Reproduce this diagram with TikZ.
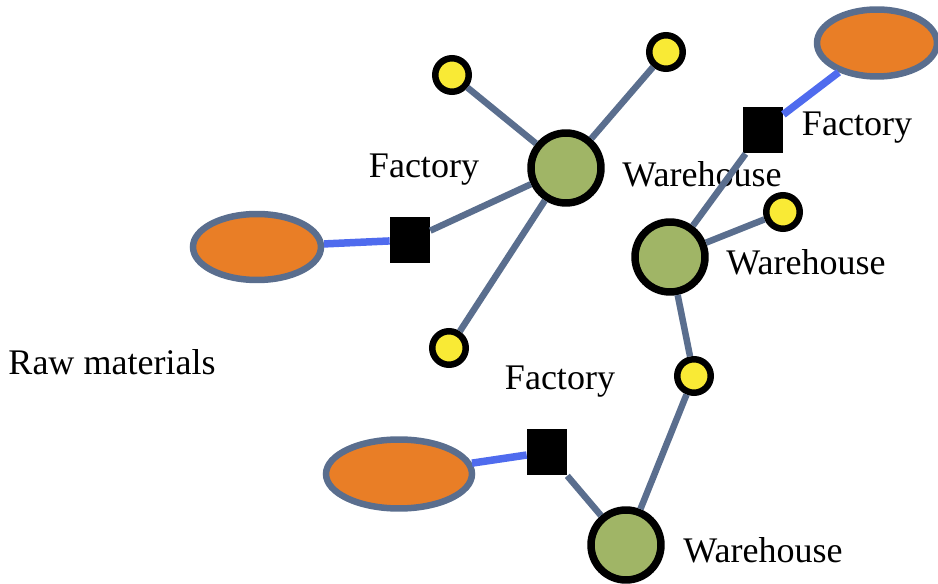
\documentclass[tikz,border=0pt]{standalone}
\usepackage{fontspec}
\setmainfont{Liberation Serif}
\usetikzlibrary{shapes.geometric}
\definecolor{rawfill}{HTML}{E97E26}
\definecolor{linkgray}{HTML}{5A6E8E}
\definecolor{supplyblue}{HTML}{4F6BEE}
\definecolor{whgreen}{HTML}{A0B566}
\definecolor{custyellow}{HTML}{F9EA35}
\tikzset{
  raw/.style={ellipse, draw=linkgray, fill=rawfill, line width=0.13cm, inner sep=0pt},
  factory/.style={rectangle, fill=black, minimum width=0.8cm, minimum height=0.94cm, inner sep=0pt},
  warehouse/.style={circle, draw=black, fill=whgreen, line width=0.15cm, minimum size=1.4cm, inner sep=0pt},
  customer/.style={circle, draw=black, fill=custyellow, line width=0.13cm, minimum size=0.67cm, inner sep=0pt},
  supply/.style={draw=supplyblue, line width=0.15cm},
  link/.style={draw=linkgray, line width=0.13cm},
  lbl/.style={font=\fontsize{20.5}{24}\selectfont, inner sep=0pt}
}

\begin{document}
\begin{tikzpicture}[x=0.02cm, y=-0.02cm]
  \useasboundingbox (0,0) rectangle (938,584);

  % raw materials
  \node (r1) [raw, minimum width=2.56cm, minimum height=1.32cm] at (257,247) {};
  \node (r2) [raw, minimum width=2.4cm, minimum height=1.34cm] at (877,43) {};
  \node (r3) [raw, minimum width=2.92cm, minimum height=1.38cm] at (399,474) {};

  % factories
  \node (f1) [factory] at (410,240) {};
  \node (f2) [factory] at (763,130) {};
  \node (f3) [factory] at (547,452) {};

  % warehouses
  \node (w1) [warehouse] at (566,168) {};
  \node (w2) [warehouse] at (670,257) {};
  \node (w3) [warehouse] at (626,545) {};

  % customers
  \node (c1) [customer] at (452,75) {};
  \node (c2) [customer] at (666,52) {};
  \node (c3) [customer] at (449,348) {};
  \node (c4) [customer] at (783,212) {};
  \node (c5) [customer] at (694,376) {};

  % labels
  \node (lf1) [lbl] at (424,170) {Factory};
  \node (lw1) [lbl] at (702,174) {Warehouse};
  \node (lf2) [lbl] at (857,128) {Factory};
  \node (lw2) [lbl] at (806,262) {Warehouse};
  \node (lraw) [lbl] at (112,362) {Raw materials};
  \node (lf3) [lbl] at (560,382) {Factory};
  \node (lw3) [lbl] at (763,550) {Warehouse};

  \draw [supply] (r1) -- (f1);
  \draw [supply] (r2) -- (f2);
  \draw [supply] (r3) -- (f3);

  \draw [link] (f1) -- (w1);
  \draw [link] (w1) -- (c1);
  \draw [link] (w1) -- (c2);
  \draw [link] (w1) -- (c3);
  \draw [link] (f2) -- (w2);
  \draw [link] (w2) -- (c4);
  \draw [link] (w2) -- (c5);
  \draw [link] (c5) -- (w3);
  \draw [link] (f3) -- (w3);
\end{tikzpicture}
\end{document}
